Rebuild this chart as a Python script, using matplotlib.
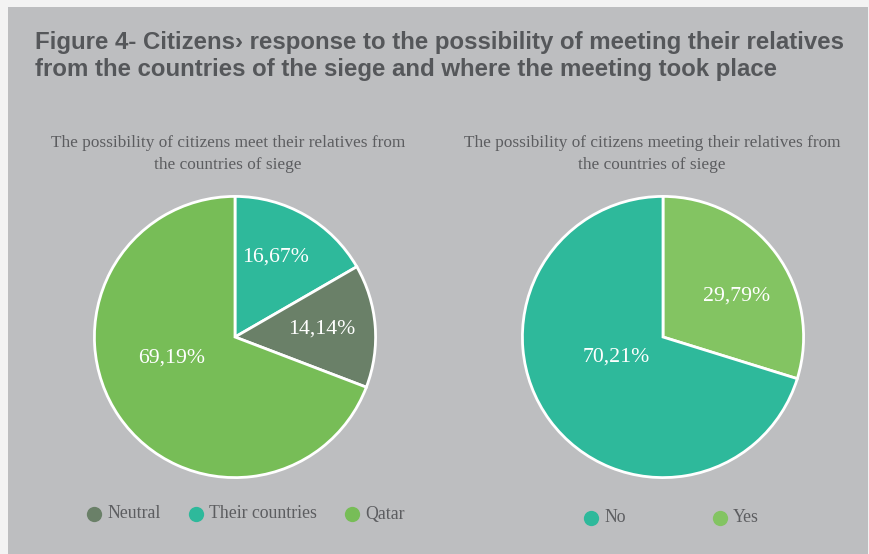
import matplotlib
matplotlib.use("Agg")
import matplotlib.pyplot as plt
from matplotlib.patches import Rectangle
from matplotlib.lines import Line2D

# ---- data ----
place_labels = ["Their countries", "Neutral", "Qatar"]
place_values = [16.67, 14.14, 69.19]
legend_left = ["Neutral", "Their countries", "Qatar"]

answer_labels = ["Yes", "No"]
answer_values = [29.79, 70.21]
legend_right = ["No", "Yes"]

title = ("Figure 4- Citizens\u203a response to the possibility of meeting their relatives\n"
         "from the countries of the siege and where the meeting took place")
sub_left = "The possibility of citizens meet their relatives from\nthe countries of siege"
sub_right = "The possibility of citizens meeting their relatives from\nthe countries of siege"

# ---- style ----
colors = {"Their countries": "#2eb99b", "Neutral": "#6a8068", "Qatar": "#77bd57",
          "No": "#2eb99b", "Yes": "#83c462"}
panel = "#bdbec0"
title_col = "#55575a"
text_col = "#5c5d60"
sans = "Liberation Sans"
serif = "Liberation Serif"

W, H = 870, 554
fig = plt.figure(figsize=(W / 100, H / 100), dpi=100)
fig.patch.set_facecolor("#f3f3f3")
fig.add_artist(Rectangle((8 / W, 0), 860 / W, 1 - 7 / H, transform=fig.transFigure,
                         facecolor=panel, edgecolor="none", zorder=0))


def fx(x):
    return x / W


def fy(y):
    return 1 - y / H


fig.text(fx(35), fy(56), title, ha="left", va="center", fontsize=17.3,
         fontweight="bold", family=sans, color=title_col, linespacing=1.22)

fig.text(fx(228), fy(154), sub_left, ha="center", va="center", fontsize=12.4,
         family=serif, color=text_col, linespacing=1.5)
fig.text(fx(652), fy(154), sub_right, ha="center", va="center", fontsize=12.4,
         family=serif, color=text_col, linespacing=1.5)


def pie_axes(cx, cy, r):
    ax = fig.add_axes([fx(cx - r), fy(cy + r), 2 * r / W, 2 * r / H])
    ax.axis("off")
    return ax


def finish(ax):
    ax.set_xlim(-1.01, 1.01)
    ax.set_ylim(-1.01, 1.01)
    ax.set_aspect("equal")


def fmt(v):
    return f"{v:.2f}".replace(".", ",") + "%"


# left pie: where the meeting took place
axL = pie_axes(235, 337, 142)
axL.pie(place_values, colors=[colors[k] for k in place_labels], startangle=90,
        counterclock=False, radius=1.0,
        wedgeprops=dict(edgecolor="white", linewidth=2))
finish(axL)
label_pos_left = [(0.29, 0.57), (0.62, 0.06), (-0.45, -0.15)]
for v, (x, y) in zip(place_values, label_pos_left):
    axL.text(x, y, fmt(v), ha="center", va="center", fontsize=15.7,
             family=serif, color="white")

# right pie: whether citizens met their relatives
axR = pie_axes(663, 337, 142)
axR.pie(answer_values, colors=[colors[k] for k in answer_labels], startangle=90,
        counterclock=False, radius=1.0,
        wedgeprops=dict(edgecolor="white", linewidth=2))
finish(axR)
label_pos_right = [(0.52, 0.29), (-0.33, -0.14)]
for v, (x, y) in zip(answer_values, label_pos_right):
    axR.text(x, y, fmt(v), ha="center", va="center", fontsize=15.7,
             family=serif, color="white")

# legends
legend_rows = [(legend_left, [94, 196, 352], 514), (legend_right, [591, 720], 518)]
for labels, xs, y in legend_rows:
    for lab, x in zip(labels, xs):
        fig.add_artist(Line2D([fx(x)], [fy(y)], marker="o", markersize=11,
                              markerfacecolor=colors[lab], markeredgecolor="none",
                              linestyle="none", transform=fig.transFigure))
        fig.text(fx(x + 13), fy(y), lab, ha="left", va="center", fontsize=12.8,
                 family=serif, color=text_col)

fig.savefig("out.png", dpi=100, facecolor=fig.get_facecolor())
